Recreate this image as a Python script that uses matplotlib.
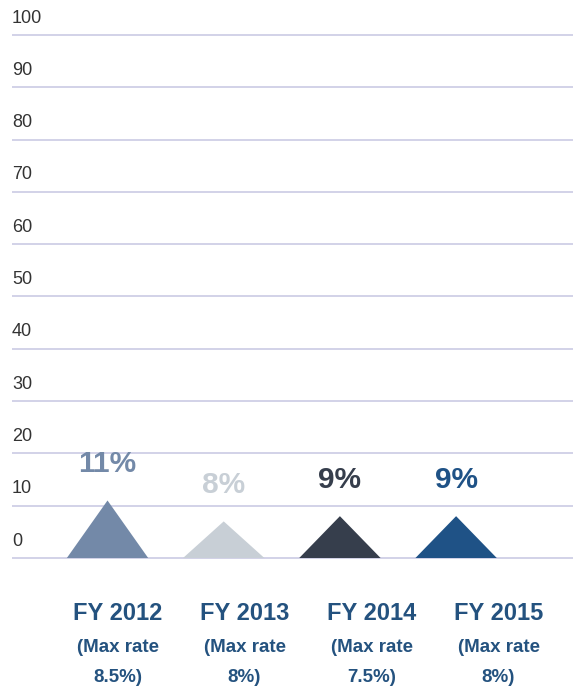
"""Triangle chart: rate by fiscal year."""

import matplotlib.pyplot as plt
import matplotlib.transforms as mtransforms

years = ["FY 2012", "FY 2013", "FY 2014", "FY 2015"]
max_rates = ["8.5%)", "8%)", "7.5%)", "8%)"]
heights = [11, 7, 8, 8]
value_labels = ["11%", "8%", "9%", "9%"]
colors = ["#7389A8", "#C8CFD6", "#363E4C", "#1F5286"]
yticks = [0, 10, 20, 30, 40, 50, 60, 70, 80, 90, 100]

plt.rcParams["font.family"] = ["Liberation Sans", "DejaVu Sans"]

fig = plt.figure(figsize=(5.73, 6.93), dpi=100)
ax = fig.add_axes([12 / 573, 0.1797, 561 / 573, 0.785])
ax.set_xlim(-0.822, 4.006)
ax.set_ylim(-2, 102)
ax.axis("off")

# gridlines + tick labels sitting above them
trans = mtransforms.blended_transform_factory(ax.transAxes, ax.transData)
for t in yticks:
    ax.axhline(t, color="#C6C6E2", lw=1.1, zorder=1)
    ax.text(0, t + 1.6, str(t), transform=trans, ha="left", va="bottom",
            fontsize=13, color="#333333")

half = 0.35
for i, (h, c, lab) in enumerate(zip(heights, colors, value_labels)):
    ax.fill([i - half, i, i + half], [0, h, 0], color=c, lw=0, zorder=2)
    ax.text(i, h + 7, lab, ha="center", va="center", fontsize=21.5,
            fontweight="bold", color=c)

# category labels below the baseline
label_blue = "#24527F"
for i, (yr, mr) in enumerate(zip(years, max_rates)):
    x = 0.086 + i * 1.093
    ax.text(x, -10.7, yr, ha="center", va="center", fontsize=17,
            fontweight="bold", color=label_blue, clip_on=False)
    ax.text(x, -17.2, "(Max rate", ha="center", va="center", fontsize=13.5,
            fontweight="bold", color=label_blue, clip_on=False)
    ax.text(x, -22.75, mr, ha="center", va="center", fontsize=13.5,
            fontweight="bold", color=label_blue, clip_on=False)

fig.savefig("out.png", dpi=100)
plt.close(fig)
